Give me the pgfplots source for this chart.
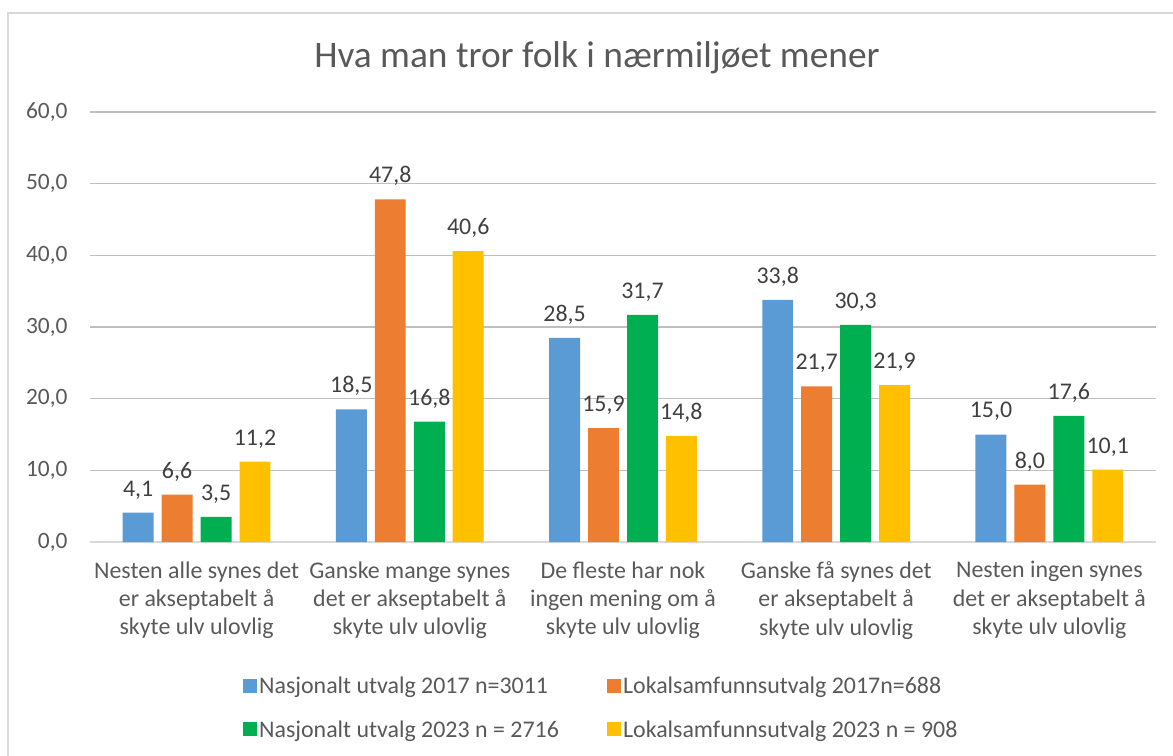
\documentclass[border=0pt]{standalone}
\usepackage{pgfplots}
\pgfplotsset{compat=1.18}
\usepackage{fontspec}
\setmainfont{Carlito}
\definecolor{cblue}{HTML}{5B9BD5}
\definecolor{corange}{HTML}{ED7D31}
\definecolor{cgreen}{HTML}{00B050}
\definecolor{cyellow}{HTML}{FFC000}
\definecolor{txt}{HTML}{595959}
\definecolor{lbl}{HTML}{404040}
\definecolor{grid}{HTML}{D9D9D9}
\begin{document}
\begin{tikzpicture}
\useasboundingbox (-90bp,-214bp) rectangle (1083bp,542bp);
\draw[grid, line width=1.2bp] (-82bp,-240bp) rectangle (1100bp,529bp);
\node[txt, font=\fontsize{37.5}{44}\selectfont] at (507bp,484bp) {Hva man tror folk i nærmiljøet mener};
\begin{axis}[
  at={(0,0)}, anchor=south west,
  scale only axis, width=1066bp, height=430bp,
  ybar, ymin=0, ymax=60, ytick={0,10,...,60},
  xmin=-0.5, xmax=4.5, xtick={0,1,2,3,4},
  xticklabels={{Nesten alle synes det\\er akseptabelt å\\skyte ulv ulovlig},
    {Ganske mange synes\\det er akseptabelt å\\skyte ulv ulovlig},
    {De fleste har nok\\ingen mening om å\\skyte ulv ulovlig},
    {Ganske få synes det\\er akseptabelt å\\skyte ulv ulovlig},
    {Nesten ingen synes\\det er akseptabelt å\\skyte ulv ulovlig}},
  xticklabel style={align=center, font=\fontsize{24}{28.5}\selectfont, text=txt, yshift=-16bp},
  yticklabel style={font=\fontsize{23.5}{28}\selectfont, text=txt, xshift=-19bp},
  y tick label style={/pgf/number format/.cd, fixed, fixed zerofill, precision=1, use comma},
  /pgf/number format/assume math mode=true,
  axis x line*=bottom, axis y line*=left,
  y axis line style={draw=none},
  x axis line style={grid, line width=1.5bp, -},
  xmajorgrids=false, ymajorgrids=true, grid style={grid, line width=1.2bp},
  major tick length=0pt,
  bar width=0.145,
  nodes near coords,
  every node near coord/.append style={font=\fontsize{24}{28}\selectfont, text=lbl, yshift=10bp,
    /pgf/number format/.cd, fixed, fixed zerofill, precision=1, use comma, assume math mode=true},
  legend columns=2,
  legend style={draw=none, at={(0.1407,-0.305)}, anchor=north west,
    font=\fontsize{24}{28}\selectfont, text=txt, row sep=21bp,
    /tikz/every even column/.append style={column sep=3bp}},
  legend cell align=left,
  legend image code/.code={\fill[#1] (0bp,-7bp) rectangle (14bp,7bp);},
  clip=false,
]
\addplot[fill=cblue, draw=none, bar shift=-0.274] coordinates {(0,4.1) (1,18.5) (2,28.5) (3,33.8) (4,15.0)};
\addlegendentry{\makebox[343bp][l]{Nasjonalt utvalg 2017 n=3011}}
\addplot[fill=corange, draw=none, bar shift=-0.0915] coordinates {(0,6.6) (1,47.8) (2,15.9) (3,21.7) (4,8.0)};
\addlegendentry{Lokalsamfunnsutvalg 2017n=688}
\addplot[fill=cgreen, draw=none, bar shift=0.0915] coordinates {(0,3.5) (1,16.8) (2,31.7) (3,30.3) (4,17.6)};
\addlegendentry{\makebox[343bp][l]{Nasjonalt utvalg 2023 n = 2716}}
\addplot[fill=cyellow, draw=none, bar shift=0.274] coordinates {(0,11.2) (1,40.6) (2,14.8) (3,21.9) (4,10.1)};
\addlegendentry{Lokalsamfunnsutvalg 2023 n = 908}
\end{axis}
\end{tikzpicture}
\end{document}
